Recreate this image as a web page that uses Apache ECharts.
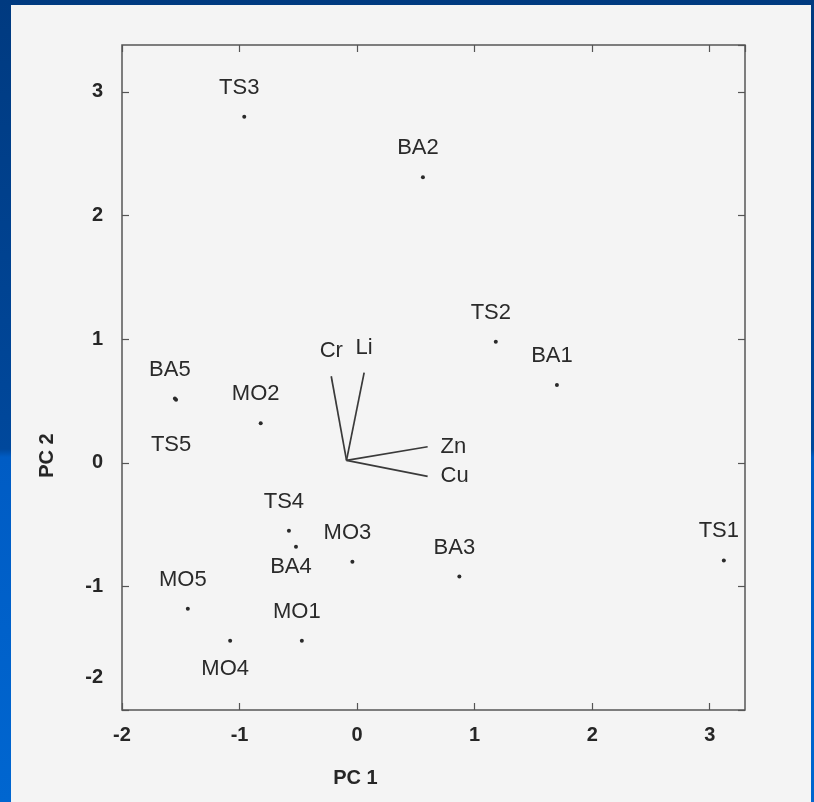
<!DOCTYPE html>
<html>
<head>
<meta charset="utf-8">
<title>PC1 / PC2 biplot</title>
<script src="https://cdn.jsdelivr.net/npm/echarts@6/dist/echarts.min.js"></script>
<style>
  html, body { margin: 0; padding: 0; }
  body {
    width: 814px; height: 802px; overflow: hidden;
    background: linear-gradient(180deg, #003a80 0%, #00489c 56%, #005cc4 57%, #0066d0 100%);
  }
  #page {
    position: absolute; left: 11px; top: 5px;
    width: 800px; height: 797px;
    background: #f4f4f4;
  }
  #chart { width: 800px; height: 797px; }
</style>
</head>
<body>
<div id="page"><div id="chart"></div></div>
<script>
// sample scores
const sampleNames = ['TS1', 'TS2', 'TS3', 'TS4', 'TS5', 'BA1', 'BA2', 'BA3', 'BA4', 'BA5', 'MO1', 'MO2', 'MO3', 'MO4', 'MO5'];
const pc1 = [3.12, 1.18, -0.96, -0.58, -1.54, 1.70, 0.56, 0.87, -0.52, -1.55, -0.47, -0.82, -0.04, -1.08, -1.44];
const pc2 = [-0.79, 0.98, 2.80, -0.55, 0.51, 0.63, 2.31, -0.92, -0.68, 0.52, -1.44, 0.32, -0.80, -1.44, -1.18];

// variable loadings (arrows)
const varNames = ['Cr', 'Li', 'Zn', 'Cu'];
const arrowOrigin = [-0.09, 0.02];
const loadX = [-0.22, 0.06, 0.60, 0.60];
const loadY = [0.70, 0.73, 0.13, -0.11];

// axis ticks
const xTicks = [-2, -1, 0, 1, 2, 3];
const yTicks = [-2, -1, 0, 1, 2, 3];

// labels that sit under their dot (distance in px)
const labelBelow = { BA4: 7, MO4: 15, TS5: 32 };

const chart = echarts.init(document.getElementById('chart'));

const ink = '#262626';
const fontFam = 'Liberation Sans, Arial, sans-serif';
const tickFont = { color: ink, fontSize: 20, fontWeight: 'bold', fontFamily: fontFam };
const labelFont = { color: '#2a2a2a', fontSize: 22, fontFamily: fontFam };

const isInt = v => Math.abs(v - Math.round(v)) < 1e-6;

function valueAxis(pos, min, max, show) {
  return {
    type: 'value',
    position: pos,
    min: min,
    max: max,
    interval: 1,
    splitLine: { show: false },
    axisLine: { show: false, onZero: false },
    axisTick: { show: true, inside: true, length: 7, lineStyle: { color: '#555', width: 1.2 } },
    axisLabel: show ? Object.assign({ formatter: v => (isInt(v) ? String(v) : ''), showMaxLabel: false }, tickFont) : { show: false }
  };
}

const xMain = valueAxis('bottom', xTicks[0], 3.3, true);
xMain.axisLabel.margin = 15;
xMain.name = 'PC 1';
xMain.nameLocation = 'middle';
xMain.nameGap = 58;
// name sits under the 0 tick, not the middle of the box
xMain.nameTextStyle = Object.assign({ padding: [0, 156, 0, 0] }, tickFont);

const yMain = valueAxis('left', yTicks[0], 3.38, true);
yMain.axisLabel.margin = 19;
// the printed -2 on the y axis sits a bit above the corner
yMain.axisLabel.formatter = v => {
  if (!isInt(v)) return '';
  return v === yTicks[0] ? '{up|' + v + '}' : String(v);
};
yMain.axisLabel.rich = { up: Object.assign({ padding: [0, 0, 66, 0] }, tickFont) };
yMain.name = 'PC 2';
yMain.nameLocation = 'middle';
yMain.nameGap = 65;
yMain.nameTextStyle = Object.assign({ padding: [0, 156, 0, 0] }, tickFont);

const xTop = valueAxis('top', xTicks[0], 3.3, false);
const yRight = valueAxis('right', yTicks[0], 3.38, false);

// scatter points with their labels
const points = sampleNames.map((n, i) => {
  const item = { name: n, value: [pc1[i], pc2[i]] };
  if (labelBelow[n] !== undefined) {
    item.label = { position: 'bottom', distance: labelBelow[n] };
  }
  return item;
});

// arrows: one line series per variable
const arrowSeries = varNames.map((n, i) => ({
  type: 'line',
  xAxisIndex: 0,
  yAxisIndex: 0,
  data: [arrowOrigin, [loadX[i], loadY[i]]],
  symbol: 'none',
  lineStyle: { color: '#3a3a3a', width: 1.7 },
  silent: true,
  z: 3
}));

const tipSeries = {
  type: 'scatter',
  symbolSize: 0,
  itemStyle: { opacity: 1 },
  data: varNames.map((n, i) => ({
    name: n,
    value: [loadX[i], loadY[i]],
    label: (n === 'Zn' || n === 'Cu') ? { position: 'right', distance: 13 } : { position: 'top', distance: 14 }
  })),
  label: Object.assign({ show: true, formatter: '{b}' }, labelFont),
  silent: true
};

const option = {
  animation: false,
  backgroundColor: '#f4f4f4',
  grid: {
    left: 111,
    right: 66,
    top: 40,
    bottom: 92,
    show: true,
    borderColor: '#555',
    borderWidth: 1.5,
    backgroundColor: 'transparent'
  },
  xAxis: [xMain, xTop],
  yAxis: [yMain, yRight],
  series: [
    {
      type: 'scatter',
      xAxisIndex: 0,
      yAxisIndex: 0,
      data: points,
      symbol: 'circle',
      symbolSize: 4,
      itemStyle: { color: '#2a2a2a', opacity: 1 },
      label: Object.assign({
        show: true,
        position: 'top',
        distance: 16,
        offset: [-5, 0],
        formatter: '{b}'
      }, labelFont),
      z: 4
    },
    ...arrowSeries,
    tipSeries
  ]
};

chart.setOption(option);
</script>
</body>
</html>
